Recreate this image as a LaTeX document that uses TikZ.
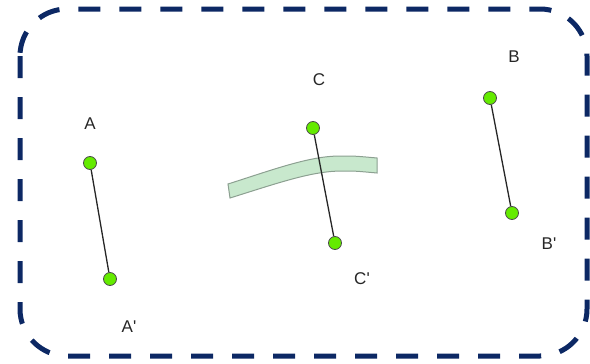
\documentclass[tikz,border=0pt]{standalone}
\usepackage{fontspec}
\setmainfont{Liberation Sans}
\definecolor{frame}{RGB}{12,40,100}
\definecolor{dotgreen}{RGB}{100,235,0}
\definecolor{bandfill}{RGB}{200,232,205}
\definecolor{bandedge}{RGB}{140,160,145}
\tikzset{
  pt/.style={circle,draw=black!70,fill=dotgreen,line width=0.8pt,minimum size=13pt,inner sep=0pt},
  lbl/.style={font=\fontsize{17}{20}\selectfont,text=black!85,inner sep=0pt},
  seg/.style={draw=black!85,line width=1.3pt}
}
\begin{document}
\begin{tikzpicture}[x=1pt,y=-1pt]
\useasboundingbox (0,0) rectangle (590,364);
\draw[frame,line width=5pt,dash pattern=on 22pt off 19pt,rounded corners=47pt] (20,9) rectangle (587,356);
% band
\draw[bandedge,fill=bandfill,line width=1pt] (228,184) .. controls (275,169) and (310,156) .. (340,156) .. controls (355,156) .. (377,158) -- (377,173) .. controls (355,171) .. (342,171) .. controls (312,171) and (278,183) .. (230,198) -- cycle;
% points
\node[pt] (A) at (90,163) {};
\node[pt] (A2) at (110,279) {};
\node[pt] (C) at (313,128) {};
\node[pt] (C2) at (335,243) {};
\node[pt] (B) at (490,98) {};
\node[pt] (B2) at (512,213) {};
\draw[seg] (A) -- (A2);
\draw[seg] (C) -- (C2);
\draw[seg] (B) -- (B2);
\node[lbl] (lA) at (90,124) {A};
\node[lbl] (lA2) at (129,327) {A\textquotesingle};
\node[lbl] (lC) at (319,80) {C};
\node[lbl] (lC2) at (362,279) {C\textquotesingle};
\node[lbl] (lB) at (514,57) {B};
\node[lbl] (lB2) at (549,244) {B\textquotesingle};
\end{tikzpicture}
\end{document}
